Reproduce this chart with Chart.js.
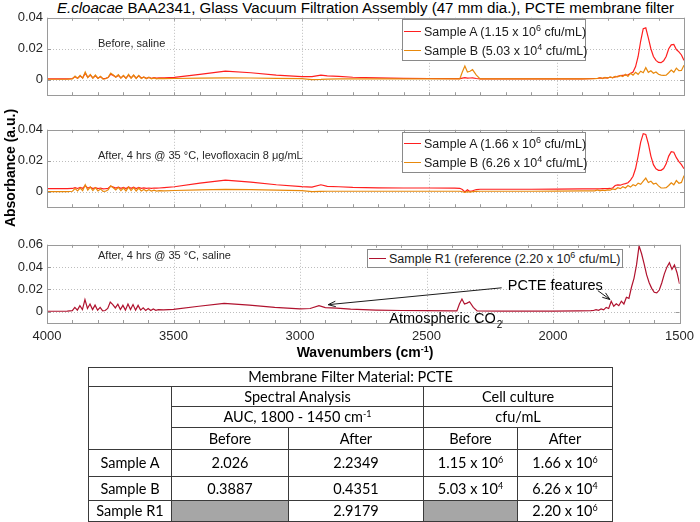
<!DOCTYPE html>
<html>
<head>
<meta charset="utf-8">
<script src="https://cdn.jsdelivr.net/npm/chart.js@4.4.1/dist/chart.umd.min.js"></script>
<style>
  body { margin: 0; background: #fff; }
  #wrap { position: relative; width: 700px; height: 522px; overflow: hidden; font-family: 'Liberation Sans', Arial, sans-serif; color: #1a1a1a; }
  canvas { position: absolute; left: 0; }
  .title { position: absolute; left: 37px; width: 657px; top: -1px; text-align: center; white-space: nowrap; font-size: 15.1px; line-height: 18px; color: #000; }
  .ylab { position: absolute; left: -90px; top: 159px; width: 200px; line-height: 18px; text-align: center; font-weight: bold; font-size: 14px; transform: rotate(-90deg); color: #000; }
  .xlab { position: absolute; left: 215px; width: 300px; top: 343px; line-height: 18px; text-align: center; font-weight: bold; font-size: 14px; color: #000; }
  .legend { position: absolute; background: #fff; border: 1px solid #8a8a8a; box-sizing: border-box; font-size: 12.5px; color: #1a1a1a; }
  .legend .row { display: flex; align-items: center; height: 19px; white-space: nowrap; }
  .legend .sw { width: 17px; height: 1.5px; margin: 0 3px 0 1px; flex: none; }
  sup { font-size: 9px; line-height: 0; vertical-align: 5px; }
  #tbl { position: absolute; left: 88px; top: 367px; width: 524px; border-collapse: collapse; table-layout: fixed; font-family: Lato, 'Open Sans', sans-serif; font-size: 14.5px; color: #000; }
  #tbl td { border: 1px solid #3a3a3a; text-align: center; padding: 0; line-height: 16px; }
  #tbl td.grey { background: #a6a6a6; }
</style>
</head>
<body>
<div id="wrap">
  <div class="title"><i>E.cloacae</i> BAA2341, Glass Vacuum Filtration Assembly (47 mm dia.), PCTE membrane filter</div>
  <canvas id="p1" width="700" height="101" style="top:6px"></canvas>
  <canvas id="p2" width="700" height="101" style="top:118px"></canvas>
  <canvas id="p3" width="700" height="114" style="top:233px"></canvas>
  <div class="ylab">Absorbance (a.u.)</div>
  <div class="xlab">Wavenumbers (cm<sup>-1</sup>)</div>

  <div class="legend" style="left:402px;top:19px;width:184px;height:42px;padding-top:2px">
    <div class="row"><span class="sw" style="background:#ff1f1f"></span><span>Sample A (1.15 x 10<sup>6</sup> cfu/mL)</span></div>
    <div class="row"><span class="sw" style="background:#e8890c"></span><span>Sample B (5.03 x 10<sup>4</sup> cfu/mL)</span></div>
  </div>
  <div class="legend" style="left:402px;top:132px;width:184px;height:41px;padding-top:1px">
    <div class="row"><span class="sw" style="background:#ff1f1f"></span><span>Sample A (1.66 x 10<sup>6</sup> cfu/mL)</span></div>
    <div class="row"><span class="sw" style="background:#e8890c"></span><span>Sample B (6.26 x 10<sup>4</sup> cfu/mL)</span></div>
  </div>
  <div class="legend" style="left:367px;top:249px;width:256px;height:19px;">
    <div class="row" style="height:17px"><span class="sw" style="background:#b0122e"></span><span>Sample R1 (reference (2.20 x 10<sup>6</sup> cfu/mL)</span></div>
  </div>

  <table id="tbl">
    <colgroup><col style="width:83px"><col style="width:117px"><col style="width:135px"><col style="width:94px"><col style="width:95px"></colgroup>
    <tbody id="tbody"></tbody>
  </table>
</div>

<script>
// wavenumber grid shared by every spectrum (cm-1)
const wavenumbers = [
  4000, 3960, 3920,
  3900, 3890, 3880, 3870, 3860, 3850, 3840, 3830, 3820, 3810,
  3800, 3790, 3780, 3770, 3760, 3750, 3740, 3730, 3720, 3710,
  3700, 3690, 3680, 3670, 3660, 3650, 3640, 3630, 3620, 3610,
  3600, 3590, 3580, 3570, 3560,
  3540, 3500, 3400, 3300, 3200, 3100, 3000, 2960, 2925, 2900, 2855, 2800, 2700, 2600, 2500, 2400,
  2380, 2370, 2360, 2350, 2340, 2330, 2315, 2300,
  2200, 2100, 2000, 1900, 1850,
  1840, 1830, 1820, 1810, 1800, 1790, 1780, 1770, 1760, 1750,
  1740, 1730, 1720, 1710, 1700, 1690, 1680, 1670, 1660, 1650,
  1640, 1630, 1620, 1610, 1600, 1590, 1580, 1570, 1560, 1550,
  1540, 1530, 1520, 1510, 1500
];

// panel 1: before, saline
const beforeA = [
  .0005, .0005, .0006,
  .0008, .0020, .0010, .0024, .0012, .0042, .0015, .0030, .0012, .0026,
  .0010, .0019, .0007, .0009, .0014, .0036, .0028, .0017, .0028, .0012,
  .0025, .0010, .0030, .0012, .0028, .0010, .0025, .0011, .0017, .0009,
  .0015, .0009, .0013, .0010, .0012,
  .0012, .0015, .0035, .0055, .0045, .0030, .0020, .0020, .0030, .0025, .0022, .0016, .0012, .0009, .0008, .0007,
  .0007, .0010, .0013, .0010, .0011, .0012, .0008, .0005,
  .0005, .0005, .0005, .0006, .0008,
  .0008, .0012, .0009, .0013, .0012, .0016, .0014, .0018, .0022, .0026,
  .0028, .0030, .0032, .0040, .0050, .0085, .0150, .0250, .0330, .0335,
  .0270, .0200, .0150, .0125, .0112, .0110, .0122, .0150, .0200, .0225,
  .0228, .0195, .0180, .0160, .0125
];
const beforeB = [
  .0003, .0003, .0004,
  .0006, .0024, .0008, .0028, .0010, .0050, .0014, .0034, .0010, .0030,
  .0008, .0022, .0004, .0006, .0016, .0042, .0030, .0016, .0032, .0010,
  .0028, .0008, .0034, .0010, .0030, .0008, .0028, .0008, .0018, .0006,
  .0016, .0006, .0012, .0006, .0009,
  .0007, .0008, .0010, .0012, .0011, .0009, .0007, .0001, .0002, .0004, .0005, .0005, .0005, .0005, .0005, .0005,
  .0005, .0050, .0088, .0050, .0055, .0065, .0030, .0005,
  .0005, .0005, .0005, .0006, .0007,
  .0008, .0014, .0008, .0015, .0010, .0018, .0012, .0022, .0018, .0028,
  .0020, .0035, .0022, .0042, .0030, .0048, .0035, .0055, .0045, .0078,
  .0048, .0058, .0042, .0050, .0035, .0030, .0028, .0030, .0045, .0062,
  .0048, .0075, .0058, .0060, .0094
];

// panel 2: after, levofloxacin
const levoA = [
  .0020, .0020, .0020,
  .0021, .0026, .0021, .0028, .0022, .0040, .0023, .0030, .0021, .0027,
  .0020, .0024, .0019, .0020, .0022, .0036, .0030, .0024, .0030, .0022,
  .0028, .0021, .0031, .0022, .0029, .0021, .0028, .0022, .0025, .0022,
  .0024, .0022, .0024, .0023, .0024,
  .0027, .0032, .0055, .0075, .0062, .0045, .0033, .0030, .0045, .0035, .0032, .0028, .0025, .0024, .0024, .0023,
  .0022, .0014, -.0002, .0012, .0002, .0006, .0014, .0016,
  .0016, .0016, .0017, .0018, .0019,
  .0019, .0019, .0020, .0020, .0020, .0021, .0024, .0040, .0044, .0042,
  .0048, .0052, .0058, .0075, .0100, .0150, .0230, .0320, .0375, .0370,
  .0310, .0230, .0175, .0148, .0138, .0138, .0150, .0180, .0230, .0258,
  .0255, .0220, .0195, .0175, .0148
];
const levoB = [
  .0000, .0000, .0001,
  .0003, .0020, .0005, .0024, .0007, .0045, .0010, .0030, .0007, .0026,
  .0005, .0018, .0002, .0003, .0012, .0038, .0026, .0012, .0028, .0007,
  .0024, .0005, .0030, .0007, .0026, .0005, .0024, .0005, .0015, .0004,
  .0013, .0004, .0010, .0004, .0007,
  .0006, .0008, .0012, .0015, .0013, .0010, .0007, .0000, .0002, .0003, .0003, .0003, .0003, .0003, .0003, .0003,
  .0003, .0000, -.0004, .0000, -.0002, .0000, .0002, .0003,
  .0003, .0003, .0004, .0005, .0006,
  .0012, .0006, .0010, .0007, .0012, .0010, .0018, .0014, .0026, .0020,
  .0032, .0024, .0040, .0030, .0045, .0038, .0055, .0048, .0068, .0088,
  .0060, .0068, .0050, .0055, .0038, .0024, .0024, .0026, .0040, .0058,
  .0045, .0072, .0055, .0060, .0104
];

// panel 3: after, saline reference
const salineR1 = [
  .0005, .0005, .0006,
  .0010, .0040, .0015, .0055, .0020, .0110, .0030, .0070, .0020, .0060,
  .0015, .0040, .0008, .0012, .0030, .0088, .0065, .0035, .0068, .0020,
  .0058, .0015, .0070, .0020, .0065, .0015, .0058, .0015, .0035, .0012,
  .0030, .0012, .0025, .0014, .0020,
  .0018, .0022, .0050, .0075, .0060, .0040, .0026, .0030, .0055, .0038, .0034, .0024, .0016, .0012, .0010, .0008,
  .0008, .0070, .0115, .0070, .0078, .0090, .0040, .0008,
  .0006, .0006, .0006, .0008, .0010,
  .0012, .0020, .0014, .0026, .0018, .0040, .0030, .0095, .0050, .0072,
  .0055, .0095, .0070, .0130, .0120, .0220, .0300, .0420, .0590, .0520,
  .0430, .0330, .0260, .0210, .0175, .0170, .0195, .0260, .0340, .0400,
  .0440, .0380, .0420, .0350, .0250
];

const xTicks = [4000, 3500, 3000, 2500, 2000, 1500];
const xMinorTicks = [3900, 3800, 3700, 3600, 3400, 3300, 3200, 3100, 2900, 2800, 2700, 2600,
  2400, 2300, 2200, 2100, 1900, 1800, 1700, 1600];
const yTicksSmall = [0, 0.02, 0.04];
const yTicksLarge = [0, 0.02, 0.04, 0.06];

// table
const sampleNames = ['Sample A', 'Sample B', 'Sample R1'];
const aucBefore = ['2.026', '0.3887', null];
const aucAfter = ['2.2349', '0.4351', '2.9179'];
const cfuBefore = [['1.15', 6], ['5.03', 4], null];
const cfuAfter = [['1.66', 6], ['6.26', 4], ['2.20', 6]];

[beforeA, beforeB, levoA, levoB, salineR1].forEach((s, i) => {
  if (s.length !== wavenumbers.length) console.error('series ' + i + ' length ' + s.length);
});

const RED = '#ff1f1f';
const ORANGE = '#e8890c';
const CRIMSON = '#b0122e';
const INK = '#262626';

Chart.defaults.font.family = "'Liberation Sans', Arial, sans-serif";
Chart.defaults.color = INK;

const toPoints = (ys) => wavenumbers.map((w, i) => ({ x: w, y: ys[i] }));

const panelDeco = {
  id: 'panelDeco',
  beforeDatasetsDraw(chart, args, opts) {
    const { ctx, chartArea: a, scales: { x, y } } = chart;
    ctx.save();
    ctx.strokeStyle = '#bdbdbd';
    ctx.lineWidth = 1;
    ctx.setLineDash([1, 2]);
    ctx.beginPath();
    xTicks.forEach((v) => {
      const px = Math.round(x.getPixelForValue(v)) + 0.5;
      ctx.moveTo(px, a.top);
      ctx.lineTo(px, a.bottom);
    });
    opts.yTicks.forEach((v) => {
      const py = Math.round(y.getPixelForValue(v)) + 0.5;
      ctx.moveTo(a.left, py);
      ctx.lineTo(a.right, py);
    });
    ctx.stroke();
    ctx.restore();
  },
  afterDatasetsDraw(chart, args, opts) {
    const { ctx, chartArea: a, scales: { x, y } } = chart;
    ctx.save();
    ctx.strokeStyle = '#9a9a9a';
    ctx.lineWidth = 1;
    ctx.beginPath();
    xTicks.concat(xMinorTicks).forEach((v) => {
      const px = Math.round(x.getPixelForValue(v)) + 0.5;
      ctx.moveTo(px, a.top);
      ctx.lineTo(px, a.top + 3);
      ctx.moveTo(px, a.bottom);
      ctx.lineTo(px, a.bottom - 3);
    });
    opts.yTicks.forEach((v) => {
      const py = Math.round(y.getPixelForValue(v)) + 0.5;
      ctx.moveTo(a.left, py);
      ctx.lineTo(a.left + 4, py);
      ctx.moveTo(a.right, py);
      ctx.lineTo(a.right - 4, py);
    });
    ctx.stroke();
    ctx.strokeRect(Math.round(a.left) + 0.5, Math.round(a.top) + 0.5,
      Math.round(a.right - a.left), Math.round(a.bottom - a.top));

    // panel caption
    ctx.fillStyle = INK;
    ctx.font = "11px 'Liberation Sans', Arial, sans-serif";
    ctx.textBaseline = 'middle';
    ctx.fillText(opts.caption, a.left + 51, a.top + opts.captionDy);

    // annotations
    (opts.arrows || []).forEach((ar) => {
      const x0 = x.getPixelForValue(ar.from[0]);
      const y0 = y.getPixelForValue(ar.from[1]);
      const x1 = x.getPixelForValue(ar.to[0]);
      const y1 = y.getPixelForValue(ar.to[1]);
      const ang = Math.atan2(y1 - y0, x1 - x0);
      ctx.strokeStyle = '#1a1a1a';
      ctx.beginPath();
      ctx.moveTo(x0, y0);
      ctx.lineTo(x1, y1);
      ctx.moveTo(x1 - 8 * Math.cos(ang - 0.35), y1 - 8 * Math.sin(ang - 0.35));
      ctx.lineTo(x1, y1);
      ctx.lineTo(x1 - 8 * Math.cos(ang + 0.35), y1 - 8 * Math.sin(ang + 0.35));
      ctx.stroke();
    });
    (opts.notes || []).forEach((n) => {
      const px = x.getPixelForValue(n.at[0]);
      const py = y.getPixelForValue(n.at[1]);
      ctx.fillStyle = '#000';
      ctx.font = "14.5px 'Liberation Sans', Arial, sans-serif";
      ctx.textBaseline = 'middle';
      ctx.fillText(n.text, px, py);
      if (n.sub) {
        const w = ctx.measureText(n.text).width;
        ctx.font = "10px 'Liberation Sans', Arial, sans-serif";
        ctx.fillText(n.sub, px + w + 1, py + 6);
      }
    });
    ctx.restore();
  },
};

function makePanel(id, datasets, yMin, yMax, yTicks, showX, deco) {
  return new Chart(document.getElementById(id), {
    type: 'line',
    data: { datasets },
    plugins: [panelDeco],
    options: {
      responsive: false,
      animation: false,
      devicePixelRatio: 1,
      layout: { padding: { left: 0, right: 16, top: 10, bottom: showX ? 0 : 10 } },
      elements: { point: { radius: 0 }, line: { tension: 0, borderWidth: 1.2 } },
      plugins: {
        legend: { display: false },
        tooltip: { enabled: false },
        panelDeco: Object.assign({ yTicks }, deco),
      },
      scales: {
        x: {
          type: 'linear',
          reverse: true,
          min: 1500,
          max: 4000,
          grid: { display: false, drawTicks: false },
          border: { display: false },
          ticks: { display: showX, padding: 6, font: { size: 13 }, color: INK, maxRotation: 0, callback: (v) => String(v) },
          afterBuildTicks: (s) => { s.ticks = xTicks.map((v) => ({ value: v })); },
          afterFit: (s) => { s.height = showX ? 24 : 0; },
        },
        y: {
          min: yMin,
          max: yMax,
          grid: { display: false, drawTicks: false },
          border: { display: false },
          ticks: { padding: 4, font: { size: 13 }, color: INK, callback: (v) => (v === 0 ? '0' : v.toFixed(2)) },
          afterBuildTicks: (s) => { s.ticks = yTicks.map((v) => ({ value: v })); },
          afterFit: (s) => { s.width = 47; },
        },
      },
    },
  });
}

makePanel('p1', [
  { label: 'Sample B', data: toPoints(beforeB), borderColor: ORANGE },
  { label: 'Sample A', data: toPoints(beforeA), borderColor: RED },
], -0.01, 0.04, yTicksSmall, false, { caption: 'Before, saline', captionDy: 26 });

makePanel('p2', [
  { label: 'Sample B', data: toPoints(levoB), borderColor: ORANGE },
  { label: 'Sample A', data: toPoints(levoA), borderColor: RED },
], -0.01, 0.04, yTicksSmall, false, { caption: 'After, 4 hrs @ 35 \u00B0C, levofloxacin 8 \u03BCg/mL', captionDy: 26 });

makePanel('p3', [
  { label: 'Sample R1', data: toPoints(salineR1), borderColor: CRIMSON },
], -0.01, 0.06, yTicksLarge, true, {
  caption: 'After, 4 hrs @ 35 \u00B0C, saline',
  captionDy: 11,
  arrows: [
    { from: [2203, 0.0215], to: [2889, 0.0064] },
    { from: [1823, 0.019], to: [1775, 0.011] },
  ],
  notes: [
    { text: 'PCTE features', at: [2179, 0.0227] },
    { text: 'Atmospheric CO', sub: '2', at: [2647, -0.0064] },
  ],
});

// table built from the arrays
const sci = (v) => v ? v[0] + ' x 10<sup>' + v[1] + '</sup>' : '';
let rows = '';
rows += '<tr style="height:19px"><td colspan="5">Membrane Filter Material: PCTE</td></tr>';
rows += '<tr style="height:20px"><td rowspan="3"></td><td colspan="2">Spectral Analysis</td><td colspan="2">Cell culture</td></tr>';
rows += '<tr style="height:21px"><td colspan="2">AUC, 1800 - 1450 cm<sup>-1</sup></td><td colspan="2">cfu/mL</td></tr>';
rows += '<tr style="height:22px"><td>Before</td><td>After</td><td>Before</td><td>After</td></tr>';
const rowH = [27, 24, 21];
sampleNames.forEach((name, i) => {
  rows += '<tr style="height:' + rowH[i] + 'px"><td>' + name + '</td>'
    + (aucBefore[i] ? '<td>' + aucBefore[i] + '</td>' : '<td class="grey"></td>')
    + '<td>' + aucAfter[i] + '</td>'
    + (cfuBefore[i] ? '<td>' + sci(cfuBefore[i]) + '</td>' : '<td class="grey"></td>')
    + '<td>' + sci(cfuAfter[i]) + '</td></tr>';
});
document.getElementById('tbody').innerHTML = rows;
</script>
</body>
</html>
